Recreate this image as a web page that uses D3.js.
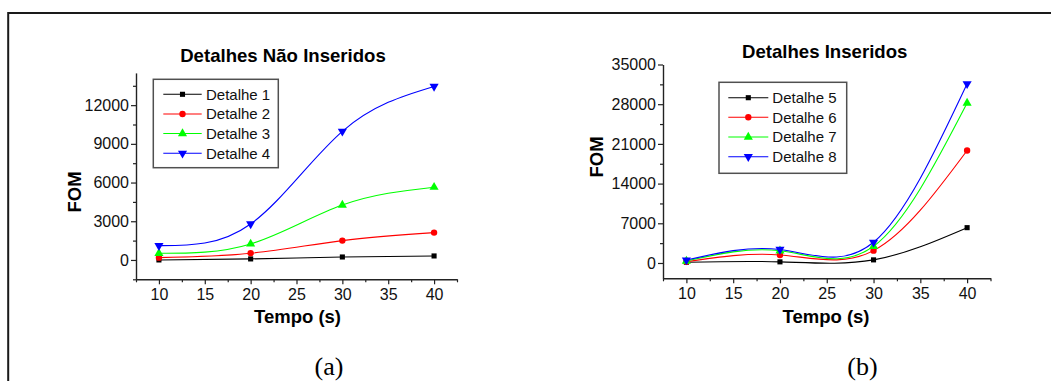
<!DOCTYPE html>
<html><head><meta charset="utf-8">
<script src="https://cdn.jsdelivr.net/npm/d3@7"></script>
<style>
html,body{margin:0;padding:0;background:#fff;}
svg{display:block;}
text{font-family:"Liberation Sans",Arial,sans-serif;}
</style></head>
<body><svg id="c" width="1051" height="381"></svg>
<script>
// ---- data ----
const tempo = [10, 20, 30, 40];
const xTicks = [10, 15, 20, 25, 30, 35, 40];

const titleA = "Detalhes Não Inseridos";
const namesA = ["Detalhe 1", "Detalhe 2", "Detalhe 3", "Detalhe 4"];
const detalhe1 = [0, 80, 230, 310];
const detalhe2 = [180, 517, 1500, 2120];
const detalhe3 = [517, 1240, 4260, 5640];
const detalhe4 = [1110, 2790, 9970, 13450];
const yTicksA = [0, 3000, 6000, 9000, 12000];

const titleB = "Detalhes Inseridos";
const namesB = ["Detalhe 5", "Detalhe 6", "Detalhe 7", "Detalhe 8"];
const detalhe5 = [130, 200, 550, 6230];
const detalhe6 = [230, 1420, 2180, 19840];
const detalhe7 = [350, 2150, 2950, 28200];
const detalhe8 = [520, 2380, 3650, 31600];
const yTicksB = [0, 7000, 14000, 21000, 28000, 35000];

const colors = ["#000000", "#ff0000", "#00ff00", "#0000ff"];
const symbols = ["square", "circle", "up", "down"];

const svg = d3.select("#c");
svg.append("rect").attr("width", 1051).attr("height", 381).attr("fill", "#fff");
// frame
svg.append("path").attr("d", "M8.2,381 L8.2,13 L1051,13").attr("fill", "none")
  .attr("stroke", "#1a1a1a").attr("stroke-width", 2);

function marker(g, type, x, y, color) {
  let sym, size, rot = 0;
  if (type === "square") { sym = d3.symbolSquare; size = 26; }
  else if (type === "circle") { sym = d3.symbolCircle; size = 32; }
  else if (type === "up") { sym = d3.symbolTriangle; size = 36; }
  else { sym = d3.symbolTriangle; size = 36; rot = 180; }
  g.append("path").attr("d", d3.symbol(sym, size)())
    .attr("transform", `translate(${x},${y}) rotate(${rot})`)
    .attr("fill", color);
}

function panel(cfg) {
  const g = svg.append("g");
  const x = d3.scaleLinear().domain([7.5, 42.5]).range(cfg.xr);
  const y = d3.scaleLinear().domain(cfg.yd).range(cfg.yr);
  const axCol = "#222";
  // minor ticks
  const xMinor = d3.range(7.5, 42.6, 5);
  const yMinor = cfg.yMinor;
  g.append("g").attr("transform", `translate(0,${cfg.yr[0]})`)
    .call(d3.axisBottom(x).tickValues(xMinor).tickSize(3).tickSizeOuter(0).tickFormat(""))
    .call(a => { a.select(".domain").remove(); a.selectAll("line").attr("stroke", axCol).attr("stroke-width", 1.2); });
  g.append("g").attr("transform", `translate(${cfg.xr[0]},0)`)
    .call(d3.axisLeft(y).tickValues(yMinor).tickSize(3).tickSizeOuter(0).tickFormat(""))
    .call(a => { a.select(".domain").remove(); a.selectAll("line").attr("stroke", axCol).attr("stroke-width", 1.2); });
  // major axes
  const xa = g.append("g").attr("transform", `translate(0,${cfg.yr[0]})`)
    .call(d3.axisBottom(x).tickValues(xTicks).tickSize(5).tickSizeOuter(0).tickPadding(5).tickFormat(d3.format("d")));
  const ya = g.append("g").attr("transform", `translate(${cfg.xr[0]},0)`)
    .call(d3.axisLeft(y).tickValues(cfg.yTicks).tickSize(5).tickSizeOuter(0).tickPadding(2).tickFormat(d3.format("d")));
  [xa, ya].forEach(a => {
    a.select(".domain").attr("stroke", axCol).attr("stroke-width", 1.4);
    a.selectAll("line").attr("stroke", axCol).attr("stroke-width", 1.2);
    a.selectAll("text").attr("fill", "#111").style("font-size", "16px").style("font-family", '"Liberation Sans",Arial,sans-serif');
  });
  xa.selectAll("text").attr("dy", null).attr("y", 20.8);

  // curves
  const line = d3.line().x((d, i) => x(tempo[i])).y(d => y(d)).curve(d3.curveNatural);
  cfg.series.forEach((s, k) => {
    g.append("path").datum(s).attr("d", line).attr("fill", "none")
      .attr("stroke", colors[k]).attr("stroke-width", 1.1);
  });
  cfg.series.forEach((s, k) => {
    s.forEach((v, i) => marker(g, symbols[k], x(tempo[i]), y(v), colors[k]));
  });

  // title
  g.append("text").attr("x", cfg.title.x).attr("y", cfg.title.y).attr("text-anchor", "middle")
    .style("font-size", "18.6px").style("font-weight", "bold").text(cfg.title.t);
  // axis titles
  g.append("text").attr("x", cfg.xt.x).attr("y", cfg.xt.y).attr("text-anchor", "middle")
    .style("font-size", "18.5px").style("font-weight", "bold").text("Tempo (s)");
  g.append("text").attr("transform", `translate(${cfg.yt.x},${cfg.yt.y}) rotate(-90)`).attr("text-anchor", "middle")
    .style("font-size", "18.5px").style("font-weight", "bold").text("FOM");

  // legend
  const L = cfg.leg;
  g.append("rect").attr("x", L.x0).attr("y", L.y0).attr("width", L.x1 - L.x0).attr("height", L.y1 - L.y0)
    .attr("fill", "#fff").attr("stroke", "#505050").attr("stroke-width", 1.5);
  cfg.names.forEach((n, k) => {
    const yy = L.rows[k];
    g.append("line").attr("x1", L.lx0).attr("x2", L.lx1).attr("y1", yy).attr("y2", yy)
      .attr("stroke", colors[k]).attr("stroke-width", 1.1);
    marker(g, symbols[k], (L.lx0 + L.lx1) / 2, yy, colors[k]);
    g.append("text").attr("x", L.tx).attr("y", yy + 5.3).style("font-size", "15px").attr("fill", "#111").text(n);
  });

  // panel label
  svg.append("text").attr("x", cfg.lab.x).attr("y", cfg.lab.y).attr("text-anchor", "middle")
    .style("font-family", '"Liberation Serif","Times New Roman",serif').style("font-size", "26px")
    .text(cfg.lab.t);
}

panel({
  xr: [136, 457], yd: [-1500, 14500], yr: [279.3, 72.9],
  yTicks: yTicksA, yMinor: d3.range(-1500, 14000, 3000),
  series: [detalhe1, detalhe2, detalhe3, detalhe4], names: namesA,
  title: { t: titleA, x: 283, y: 62 },
  xt: { x: 297.5, y: 323 }, yt: { x: 81, y: 192 },
  leg: { x0: 153.3, x1: 278.3, y0: 79.3, y1: 167.7, rows: [94.3, 114, 133.5, 153.3], lx0: 163.3, lx1: 201.7, tx: 206 },
  lab: { t: "(a)", x: 329, y: 374.5 }
});
panel({
  xr: [663, 990.5], yd: [-2700, 35000], yr: [278.3, 64.5],
  yTicks: yTicksB, yMinor: d3.range(3500, 35000, 7000),
  series: [detalhe5, detalhe6, detalhe7, detalhe8], names: namesB,
  title: { t: titleB, x: 824.7, y: 58 },
  xt: { x: 826, y: 322.5 }, yt: { x: 603, y: 157 },
  leg: { x0: 719, x1: 846.7, y0: 82.3, y1: 173.3, rows: [97.7, 117.3, 137, 156.7], lx0: 728.3, lx1: 768.3, tx: 772.3 },
  lab: { t: "(b)", x: 862.5, y: 374.5 }
});
</script></body></html>
